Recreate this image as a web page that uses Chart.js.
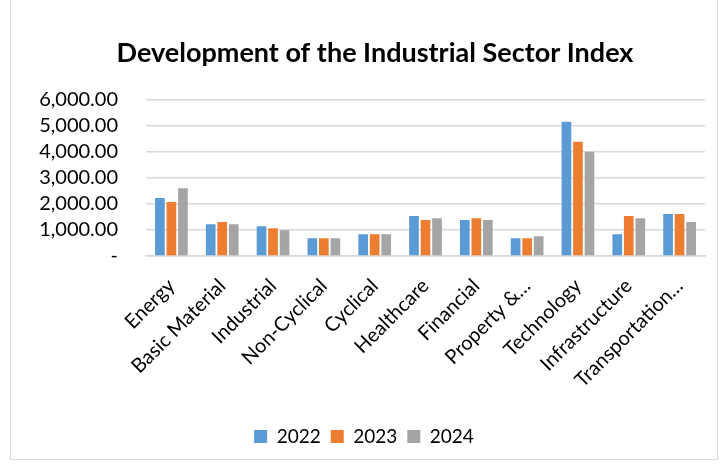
<!DOCTYPE html>
<html>
<head>
<meta charset="utf-8">
<script src="https://cdn.jsdelivr.net/npm/chart.js@4"></script>
<style>
  html, body { margin: 0; padding: 0; background: #fff; }
  #wrap { position: absolute; left: 10px; top: -2px; width: 708px; height: 462px; border: 1px solid #d9d9d9; box-sizing: border-box; }
  canvas { display: block; }
</style>
</head>
<body>
<div id="wrap"><canvas id="chart"></canvas></div>
<script>
const sectors = ['Energy', 'Basic Material', 'Industrial', 'Non-Cyclical', 'Cyclical', 'Healthcare',
    'Financial', 'Property &\u2026', 'Technology', 'Infrastructure', 'Transportation\u2026'];
const values2022 = [2220, 1220, 1140, 680, 835, 1530, 1375, 680, 5140, 835, 1605];
const values2023 = [2065, 1300, 1065, 680, 835, 1375, 1450, 680, 4375, 1530, 1605];
const values2024 = [2600, 1220, 990, 680, 835, 1450, 1375, 760, 3990, 1450, 1300];
const yTicks = [0, 1000, 2000, 3000, 4000, 5000, 6000];

const font = "Lato, 'Open Sans', sans-serif";

// the title sits a bit right of the canvas centre in the original
const shiftTitle = {
    id: 'shiftTitle',
    afterLayout(chart) {
        if (chart.titleBlock) chart.titleBlock.left += 22;
    }
};

const ctx = document.getElementById('chart').getContext('2d');
const myChart = new Chart(ctx, {
    type: 'bar',
    data: {
        labels: sectors,
        datasets: [
            { label: '2022', data: values2022, backgroundColor: '#5B9BD5' },
            { label: '2023', data: values2023, backgroundColor: '#ED7D31' },
            { label: '2024', data: values2024, backgroundColor: '#A5A5A5' }
        ]
    },
    plugins: [shiftTitle],
    options: {
        responsive: true,
        maintainAspectRatio: false,
        animation: false,
        layout: { padding: { left: 12, right: 12, top: 38, bottom: 3 } },
        datasets: { bar: { categoryPercentage: 0.68, barPercentage: 0.84 } },
        plugins: {
            title: {
                display: true,
                text: 'Development of the Industrial Sector Index',
                color: '#000',
                font: { family: font, size: 27, weight: 'bold' },
                padding: { top: 0, bottom: 30 }
            },
            legend: {
                position: 'bottom',
                labels: {
                    color: '#000',
                    font: { family: font, size: 19 },
                    boxWidth: 13, boxHeight: 13, padding: 10
                }
            },
            tooltip: { enabled: false }
        },
        scales: {
            y: {
                min: 0, max: 6000,
                afterBuildTicks: axis => { axis.ticks = yTicks.map(v => ({ value: v })); },
                afterFit: axis => { axis.width = 123; },
                ticks: {
                    color: '#000',
                    font: { family: font, size: 20 },
                    padding: 28,
                    autoSkip: false,
                    callback: v => v === 0 ? '-' : v.toLocaleString('en-US', { minimumFractionDigits: 2, maximumFractionDigits: 2 })
                },
                grid: { color: '#d9d9d9', lineWidth: 1.5, drawTicks: false },
                border: { display: false }
            },
            x: {
                afterFit: axis => { axis.height = 161; },
                ticks: {
                    color: '#000',
                    font: { family: font, size: 20 },
                    maxRotation: 45, minRotation: 45,
                    autoSkip: false,
                    padding: 10
                },
                grid: { display: false },
                border: { color: '#d9d9d9', width: 1.5 }
            }
        }
    }
});
</script>
</body>
</html>
